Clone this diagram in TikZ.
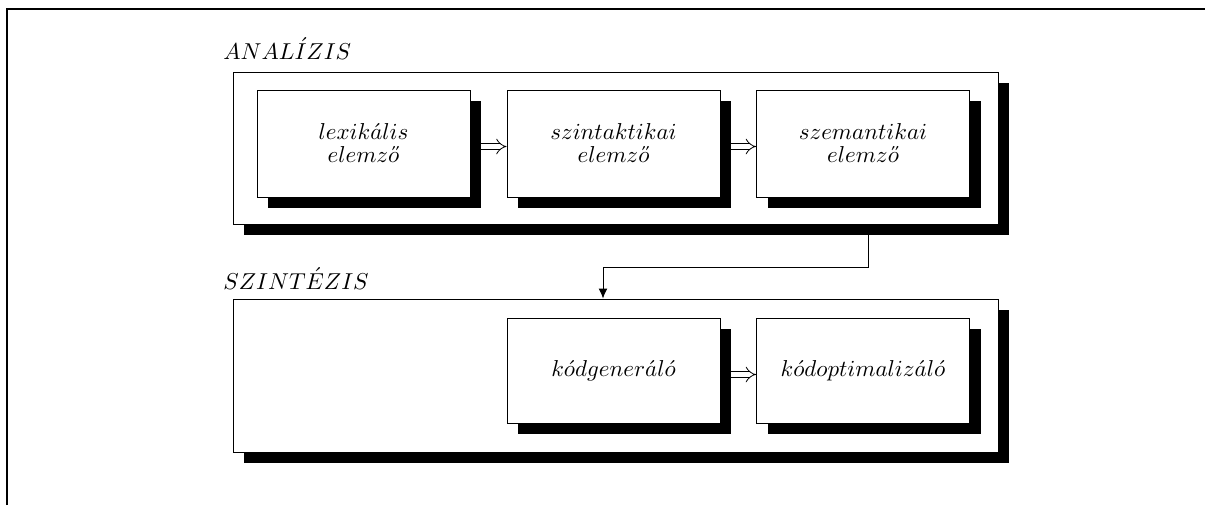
\documentclass[tikz,border=0pt]{standalone}
\usepackage{graphicx}
\usetikzlibrary{arrows.meta,calc}
\newcommand\dacute{\mathaccent"707D }
\newcommand\tx[1]{\scalebox{1.15}{$#1$}}
\tikzset{
  frameline/.style={line width=0.8pt, draw=black},
  box/.style={draw=black, line width=0.5pt, fill=white, inner sep=0pt, align=center,
    font=\fontsize{10}{11.5}\selectfont},
  shadebox/.style={fill=black, draw=none, inner sep=0pt},
  dbl/.style={double, double distance=2.4pt, line width=0.4pt, -{Implies[length=3.5pt]}},
  conn/.style={line width=0.5pt, -{Latex[length=5pt,width=4.5pt]}},
  title/.style={anchor=base west, inner sep=0pt, font=\fontsize{10}{12}\selectfont}
}
\begin{document}
\begin{tikzpicture}[x=0.5pt,y=-0.5pt]
\useasboundingbox (0,0) rectangle (1205,505);
\draw[frameline] (7,505) -- (7,9) -- (1206,9);

% titles
\node[title] (tA) at (223,59) {\tx{ANAL\acute{I}ZIS}};
\node[title] (tS) at (223,289) {\tx{SZINT\acute{E}ZIS}};

% ANALIZIS group
\node[shadebox, minimum width=382.5pt, minimum height=76pt] (As) at (626.5,159) {};
\node[box, minimum width=382.5pt, minimum height=76pt] (A) at (615.5,148) {};
\node[shadebox, minimum width=106.5pt, minimum height=53.5pt] (b1s) at (374.5,154.5) {};
\node[shadebox, minimum width=106.5pt, minimum height=53.5pt] (b2s) at (624.5,154.5) {};
\node[shadebox, minimum width=106.5pt, minimum height=53.5pt] (b3s) at (874,154.5) {};
\node[box, minimum width=106.5pt, minimum height=53.5pt] (b1) at (363.5,143.5)
  {\tx{lexik\acute{a}lis}\\\tx{elemz\dacute{o}}};
\node[box, minimum width=106.5pt, minimum height=53.5pt] (b2) at (613.5,143.5)
  {\tx{szintaktikai}\\\tx{elemz\dacute{o}}};
\node[box, minimum width=106.5pt, minimum height=53.5pt] (b3) at (863,143.5)
  {\tx{szemantikai}\\\tx{elemz\dacute{o}}};

% SZINTEZIS group
\node[shadebox, minimum width=382.5pt, minimum height=76.5pt] (Ss) at (626.5,386.5) {};
\node[box, minimum width=382.5pt, minimum height=76.5pt] (S) at (615.5,375.5) {};
\node[shadebox, minimum width=106.5pt, minimum height=52.5pt] (b4s) at (624.5,381.5) {};
\node[shadebox, minimum width=106.5pt, minimum height=52.5pt] (b5s) at (874,381.5) {};
\node[box, minimum width=106.5pt, minimum height=52.5pt] (b4) at (613.5,370.5)
  {\tx{k\acute{o}dgener\acute{a}l\acute{o}}};
\node[box, minimum width=106.5pt, minimum height=52.5pt] (b5) at (863,370.5)
  {\tx{k\acute{o}doptimaliz\acute{a}l\acute{o}}};

% connectors
\draw[dbl] ($(b1s.east|-b2.west)+(0,3)$) -- ($(b2.west)+(0,3)$);
\draw[dbl] ($(b2s.east|-b3.west)+(0,3)$) -- ($(b3.west)+(0,3)$);
\draw[dbl] ($(b4s.east|-b5.west)+(0,4)$) -- ($(b5.west)+(0,4)$);
\coordinate (bend) at (868,267);
\draw[conn] (As.south -| bend) -- (bend) -| (S.north -| 603,0);
\end{tikzpicture}
\end{document}
